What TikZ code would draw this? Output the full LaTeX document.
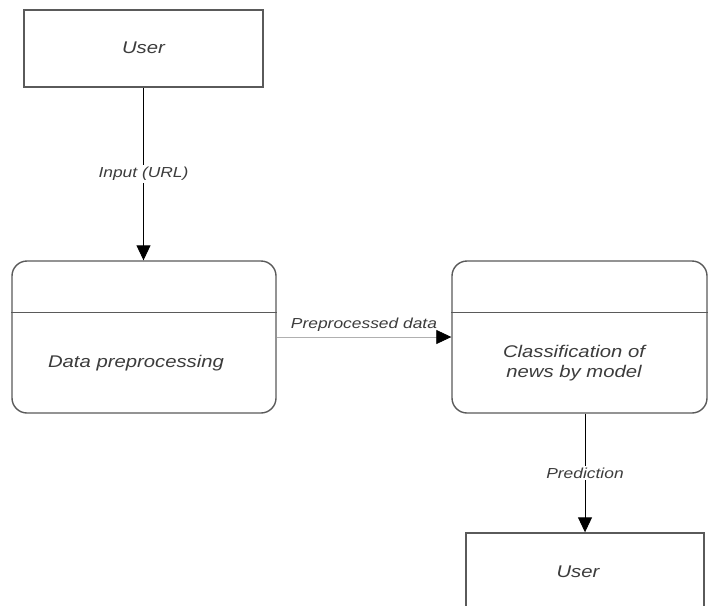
\documentclass[tikz,border=0pt]{standalone}
\usepackage{fontspec}
\newfontfamily\lab{Liberation Sans}[FakeStretch=1.2]
\usetikzlibrary{arrows.meta}
\definecolor{boxgray}{HTML}{5A5A5A}
\definecolor{txtgray}{HTML}{3C3C3C}
\definecolor{linegray}{HTML}{B0B0B0}
\tikzset{
  plainbox/.style={draw=boxgray, line width=1.4pt, inner sep=0pt},
  roundbox/.style={plainbox, rounded corners=15pt},
  divider/.style={draw=boxgray, line width=1.2pt},
  maintext/.style={font=\lab\itshape\fontsize{16.9}{20.5}\selectfont, text=txtgray, align=center},
  flowlabel/.style={font=\lab\itshape\fontsize{14.5}{17}\selectfont, text=txtgray, inner sep=2pt},
  flow/.style={draw=black, line width=0.9pt, -{Triangle[length=15pt,width=14pt]}},
  lightflow/.style={draw=linegray, line width=0.8pt, -{Triangle[length=15pt,width=14pt,color=black]}}
}
\begin{document}
\begin{tikzpicture}[x=1pt,y=-1pt]
\useasboundingbox (0,0) rectangle (708,605);
\clip (0,0) rectangle (708,605);
\fill[white] (0,0) rectangle (708,605);
% helper coordinates
\coordinate (d1) at (0,312.5);
\coordinate (pr) at (0,337);
\coordinate (px) at (585,0);
% boxes
\node[plainbox, minimum width=239pt, minimum height=77pt] (user1) at (143.5,48.5) {};
\node[maintext] (t1) at (143.5,48) {User};
\node[roundbox, minimum width=264pt, minimum height=152pt] (prep) at (144,337) {};
\draw[divider] (prep.west |- d1) -- (prep.east |- d1);
\node[maintext] (t2) at (136,363) {Data preprocessing};
\node[roundbox, minimum width=255pt, minimum height=152pt] (cls) at (579.5,337) {};
\draw[divider] (cls.west |- d1) -- (cls.east |- d1);
\node[maintext] (t3) at (574,363) {Classification of\\news by model};
\node[plainbox, minimum width=238pt, minimum height=120pt] (user2) at (585,593) {};
\node[maintext] (t4) at (578,572) {User};
% connectors
\draw[flow] (user1.south) -- node[flowlabel, fill=white] (l1) {Input (URL)} (user1.south |- prep.north);
\draw[lightflow] (prep.east |- pr) -- node[flowlabel, above=3pt] (l2) {Preprocessed data} (cls.west |- pr);
\draw[flow] (cls.south -| px) -- node[flowlabel, fill=white] (l3) {Prediction} (user2.north -| px);
\end{tikzpicture}
\end{document}
